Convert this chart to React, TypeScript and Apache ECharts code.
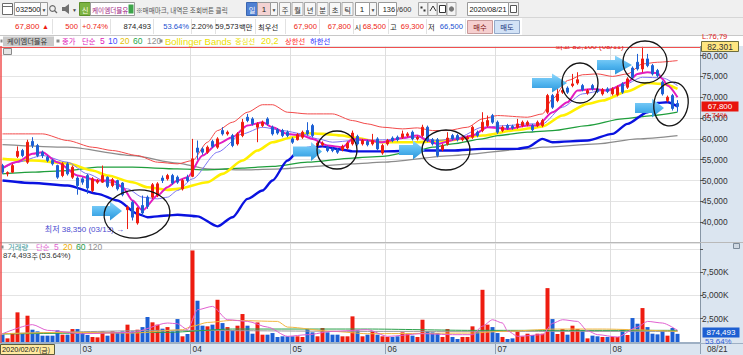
import React, { useEffect, useRef } from 'react';
import * as echarts from 'echarts';

// ---------- DATA ----------
const monthDays: [string, number[]][] = [
  ['02', [7, 10, 11, 12, 13, 14, 17, 18, 19, 20, 21, 24, 25, 26, 27, 28]],
  ['03', [2, 3, 4, 5, 6, 9, 10, 11, 12, 13, 16, 17, 18, 19, 20, 23, 24, 25, 26, 27, 30, 31]],
  ['04', [1, 2, 3, 6, 7, 8, 9, 10, 13, 14, 16, 17, 20, 21, 22, 23, 24, 27, 28, 29]],
  ['05', [4, 6, 7, 8, 11, 12, 13, 14, 15, 18, 19, 20, 21, 22, 25, 26, 27, 28, 29]],
  ['06', [1, 2, 3, 4, 5, 8, 9, 10, 11, 12, 15, 16, 17, 18, 19, 22, 23, 24, 25, 26, 29, 30]],
  ['07', [1, 2, 3, 6, 7, 8, 9, 10, 13, 14, 15, 16, 17, 20, 21, 22, 23, 24, 27, 28, 29, 30, 31]],
  ['08', [3, 4, 5, 6, 7, 10, 11, 12, 13, 14, 18, 19, 20, 21]],
];
const padSlots = [' ', '  ', '   ', '    '];

const opens = [
  53600, 51600, 52000, 55800, 57200, 54400, 59400, 58400, 56800, 55600,
  54800, 53600, 51200, 54000, 50800, 50600, 50400, 51200, 47600, 49600,
  49600, 50800, 48800, 50000, 49400, 43000, 44800, 39800, 44000, 46000,
  46000, 46400, 50600, 50400, 51200, 50800, 48000, 50800, 51000, 57800,
  57600, 56800, 59400, 58000, 62000, 61200, 60800, 58800, 60800, 65200,
  64800, 62800, 63200, 64800, 62800, 62200, 62000, 61600, 60000, 59800,
  60400, 62000, 63200, 58400, 58600, 58000, 57600, 57400, 57400, 57800,
  58800, 60600, 58800, 59400, 58800, 60000, 56600, 58800, 60200, 60400,
  60400, 60800, 61600, 60000, 60800, 62800, 59800, 59800, 57400, 58800,
  60800, 60800, 59800, 60000, 60400, 61600, 62000, 63200, 65600, 64000,
  62000, 63200, 63000, 62800, 63200, 63400, 63200, 63200, 63200, 66400,
  70400, 69200, 71200, 72200, 72800, 73400, 72800, 71000, 72800, 72000,
  70800, 72000, 70800, 70600, 73200, 72400, 77000, 78400, 76800, 79200,
  77600, 76400, 73600, 69200, 70400, 68500,
];
const closes = [
  52000, 51900, 53600, 57000, 56000, 59200, 58400, 56000, 56000, 54800,
  54000, 50800, 54000, 51600, 53200, 48800, 49600, 48200, 50400, 50000,
  51200, 48600, 50200, 48000, 46600, 43600, 41200, 43400, 42200, 43800,
  49000, 49200, 50000, 51200, 49400, 49600, 50000, 50000, 55200, 56800,
  56800, 58000, 58200, 60000, 61200, 61600, 58400, 61200, 64000, 64400,
  63600, 63600, 64000, 63600, 61200, 61400, 60800, 60800, 59200, 61000,
  61600, 61200, 60800, 59000, 59000, 57200, 57200, 56800, 58200, 59000,
  61400, 58800, 59600, 58600, 59600, 57600, 58400, 59600, 59600, 59800,
  61200, 61200, 60000, 60400, 62800, 59600, 58800, 56000, 58400, 60200,
  60000, 59800, 60200, 60400, 62800, 60800, 64000, 64400, 64000, 61600,
  62800, 62600, 62600, 63600, 64000, 64000, 62200, 64000, 64400, 70400,
  67600, 70800, 71600, 71200, 73200, 74200, 71800, 71600, 72000, 71400,
  71800, 71400, 72000, 72400, 71200, 74400, 74800, 76800, 79200, 77600,
  75600, 75200, 70800, 70000, 67300, 67800,
];
const lows = [
  51600, 51000, 51800, 55400, 55600, 54000, 57800, 55600, 55400, 54400,
  53600, 50400, 50800, 51200, 50400, 46600, 49000, 46800, 47200, 49200,
  49400, 48200, 48400, 47600, 46200, 38350, 40400, 39400, 41600, 43200,
  45600, 46000, 49400, 50000, 49000, 49200, 47600, 49600, 50800, 55000,
  56200, 56400, 57800, 57600, 60800, 60800, 58000, 58400, 60400, 64000,
  63200, 59200, 62800, 63200, 60800, 61000, 60400, 60400, 58800, 59600,
  60000, 60800, 60400, 58000, 58200, 56800, 56800, 56400, 57000, 57400,
  58400, 58400, 58400, 58200, 58400, 57200, 56200, 58400, 59200, 59400,
  60000, 60400, 59600, 59600, 60400, 59200, 58400, 55600, 57000, 58400,
  59600, 59400, 59400, 59600, 60000, 60400, 61600, 62800, 63600, 61200,
  61600, 62200, 62200, 62400, 62800, 63000, 61800, 62800, 62800, 66000,
  67200, 68800, 70800, 70800, 72400, 73000, 71400, 70600, 71600, 71000,
  70400, 71000, 70400, 70200, 70800, 72000, 74400, 76400, 76000, 77200,
  75200, 74800, 70400, 68800, 66800, 66500,
];
const highs = [
  54000, 52200, 54000, 58200, 57600, 59800, 60400, 58800, 57200, 56000,
  55200, 53800, 54400, 54400, 53600, 51000, 50800, 51600, 50800, 50400,
  53600, 51000, 50600, 50200, 49600, 44000, 45200, 43600, 46400, 46400,
  49400, 49600, 51200, 51600, 51600, 51200, 50400, 51400, 60000, 59600,
  58000, 58400, 59800, 60400, 62800, 62000, 61200, 61600, 64800, 66000,
  65200, 64000, 64400, 65200, 63200, 62600, 62400, 62000, 60400, 61400,
  62000, 64000, 63600, 59400, 59400, 58400, 58000, 57800, 58600, 59400,
  62000, 61000, 60000, 59800, 61200, 60400, 58800, 60000, 60600, 60800,
  62000, 61600, 62000, 60800, 63400, 63200, 60200, 60200, 58800, 61600,
  61200, 61200, 60600, 60800, 63200, 62000, 66400, 65600, 66000, 64400,
  63200, 63600, 63400, 64800, 64400, 64400, 63600, 64400, 64800, 70800,
  70800, 72400, 72000, 72600, 75600, 76000, 73200, 72000, 73200, 72400,
  72200, 72400, 72400, 72800, 73600, 74800, 77400, 80400, 82100, 80400,
  78000, 76800, 74000, 70400, 70800, 69300,
];
// volume in thousands of shares
const volumesK = [
  785, 390, 890, 3180, 960, 2820, 1320, 1140, 680, 680,
  680, 1250, 785, 785, 1390, 1390, 1035, 750, 535, 500,
  1140, 680, 1140, 960, 1140, 1860, 1140, 1320, 1600, 2680,
  2110, 1860, 1430, 1600, 1140, 2460, 610, 860, 9820, 4430,
  1750, 1680, 1860, 4530, 2030, 1600, 1250, 1750, 3000, 1750,
  890, 2100, 785, 785, 960, 535, 610, 610, 610, 610,
  535, 1390, 1035, 610, 1500, 1035, 785, 785, 610, 610,
  2750, 1250, 610, 785, 1140, 785, 610, 540, 540, 610,
  1035, 850, 680, 540, 2390, 1140, 1035, 960, 540, 1390,
  540, 320, 540, 540, 1680, 1140, 5600, 1860, 1600, 960,
  540, 320, 390, 1140, 610, 890, 750, 890, 890, 5780,
  2460, 860, 1390, 785, 1750, 1390, 1250, 390, 680, 610,
  540, 540, 540, 540, 1320, 750, 2570, 1960, 3640, 1600,
  890, 820, 1250, 680, 1500, 874,
];

// indicator lines: [trading-day index, value]
const ma5Pts = [[0, 53000], [3, 54500], [6, 56400], [8, 56800], [11, 54400], [15, 51200], [19, 50000], [22, 50000], [24, 48400], [26, 45200], [28, 42800], [31, 46400], [33, 48400], [35, 50000], [37, 50800], [40, 56000], [43, 58800], [46, 60400], [49, 63200], [52, 64000], [54, 62800], [57, 61200], [60, 60800], [62, 60000], [65, 58400], [68, 58000], [70, 60000], [72, 59800], [76, 59200], [80, 60240], [83, 60800], [85, 59600], [87, 58800], [91, 60000], [94, 60800], [97, 62800], [101, 62400], [105, 63200], [107, 63200], [110, 66400], [113, 68800], [115, 71600], [118, 72000], [121, 71600], [125, 73600], [127, 75600], [129, 76000], [131, 75800], [132, 74400], [133, 72800], [135, 70000]];
const ma10Pts = [[0, 52800], [3, 54400], [8, 56000], [13, 54400], [17, 51600], [21, 49600], [25, 48000], [28, 46000], [31, 45600], [33, 46000], [35, 47600], [38, 50400], [43, 56800], [48, 61200], [52, 62800], [56, 62000], [60, 61200], [63, 60000], [66, 59200], [70, 59600], [76, 59760], [83, 60400], [87, 59600], [91, 60240], [96, 62800], [101, 63200], [105, 63600], [108, 63600], [112, 67600], [116, 70800], [120, 71600], [124, 72800], [128, 74800], [132, 74640], [135, 72800]];
const bbMidPts = [[0, 55200], [6, 54800], [13, 54160], [18, 52400], [21, 51200], [26, 49600], [29, 48400], [33, 47760], [35, 48000], [41, 49600], [44, 51600], [48, 54800], [51, 57200], [54, 59200], [58, 60400], [61, 61360], [64, 61200], [68, 60800], [70, 60300], [76, 59200], [83, 59200], [89, 59600], [96, 60800], [103, 62160], [106, 62600], [108, 63000], [112, 65600], [117, 68400], [120, 69200], [125, 71400], [129, 73400], [132, 73200], [135, 72000]];
const bbUpPts = [[0, 61200], [8, 61200], [13, 59600], [18, 58000], [22, 57200], [27, 56000], [31, 54400], [35, 54000], [38, 54800], [41, 59200], [43, 62000], [46, 64000], [49, 66400], [52, 68200], [54, 68200], [57, 66400], [61, 66000], [66, 66000], [70, 64400], [73, 63600], [76, 62800], [80, 62400], [83, 62640], [86, 62000], [89, 62000], [93, 62800], [96, 64800], [99, 65600], [105, 65200], [108, 66000], [110, 69600], [113, 74000], [116, 75400], [119, 75600], [122, 75000], [125, 75600], [128, 78000], [131, 78400], [135, 78800]];
const bbLowPts = [[0, 50000], [6, 49400], [13, 48800], [19, 46800], [23, 45200], [27, 42000], [29, 41200], [33, 41600], [35, 41800], [39, 41400], [43, 39000], [46, 41200], [49, 45600], [52, 47600], [54, 50000], [57, 54800], [59, 56800], [61, 57800], [64, 58200], [68, 57400], [70, 57000], [76, 57000], [83, 57200], [90, 57200], [96, 57600], [103, 57600], [105, 58000], [108, 60000], [110, 59200], [117, 59600], [122, 61200], [125, 63600], [129, 66400], [131, 68600], [133, 68800], [135, 67800]];
const ma60Pts = [[0, 51600], [6, 52000], [13, 52400], [19, 53200], [26, 53200], [35, 52800], [41, 52560], [48, 53000], [54, 53400], [61, 54400], [70, 55400], [76, 55800], [83, 57200], [86, 58000], [90, 58800], [96, 60000], [99, 60800], [105, 61600], [110, 62000], [117, 63200], [124, 64800], [130, 65600], [135, 66400]];
const ma120Pts = [[0, 58640], [13, 58000], [26, 56000], [35, 54200], [41, 52800], [48, 52560], [56, 52800], [62, 53360], [70, 54000], [76, 54400], [90, 56000], [105, 57600], [108, 58000], [119, 58800], [127, 60000], [135, 60800]];
const vma5Pts = [[0, 890], [6, 1860], [9, 1250], [16, 890], [26, 1035], [33, 2035], [35, 1960], [37, 1320], [39, 3460], [42, 3820], [45, 2390], [49, 2210], [53, 1600], [57, 610], [61, 785], [66, 1140], [73, 1320], [77, 610], [84, 890], [90, 785], [94, 785], [96, 1700], [98, 2390], [100, 2035], [101, 1200], [103, 610], [108, 785], [110, 2000], [112, 2390], [115, 2210], [117, 1200], [119, 785], [123, 535], [127, 1600], [129, 2210], [132, 2035], [135, 1250]];
const vma20Pts = [[0, 890], [13, 1035], [26, 960], [36, 1320], [38, 1700], [41, 2100], [46, 2320], [55, 2210], [57, 1600], [66, 1140], [73, 890], [94, 960], [100, 1140], [111, 1390], [120, 1390], [135, 1140]];
const vma60Pts = [[0, 860], [33, 1035], [46, 1390], [73, 1390], [94, 1250], [135, 1250]];
const vma120Pts = [[0, 890], [33, 1250], [73, 1140], [135, 1140]];

const priceTicks = { min: 35000, max: 82301, step: 5000 };
const volTicks = { min: 0, max: 10620, step: 2500 };
const highMark = { index: 128, value: 82100, text: '최고 82,100 (08/11) →' };
const lowMark = { index: 25, value: 38350, text: '최저 38,350 (03/13) →' };

// ---------- derived ----------
const dates: string[] = [];
const monthStart: Record<number, string> = {};
monthDays.forEach(([m, ds]) => {
  monthStart[dates.length] = m;
  ds.forEach((d) => dates.push(`2020/${m}/${d < 10 ? '0' + d : d}`));
});
const categories = dates.concat(padSlots);
const isMonthStart = (i: number) => monthStart[i] !== undefined && i > 0;

const RED = '#ee1c10';
const BLUE = '#1c5fd4';
const FONT = '"Liberation Sans","Noto Sans CJK KR",sans-serif';
const KFONT = '"Noto Sans CJK KR","Liberation Sans",sans-serif';

const txt = (text: string, x: number, y: number, fill = '#222', size = 8, align = 'left', font = FONT, z = 60) => ({
  type: 'text', x, y, z, silent: true,
  style: { text, fill, font: `${size}px ${font}`, align, verticalAlign: 'middle' },
});
const ktxt = (text: string, x: number, y: number, fill = '#222', size = 7.3, align = 'left', z = 60) =>
  txt(text, x, y, fill, size, align, KFONT, z);
const rect = (x: number, y: number, w: number, h: number, fill: string, stroke?: string, z = 50) => ({
  type: 'rect', z, silent: true, shape: { x, y, width: w, height: h },
  style: { fill, stroke: stroke || null, lineWidth: stroke ? 1 : 0 },
});
const line = (x1: number, y1: number, x2: number, y2: number, stroke: string, w = 1, z = 50) => ({
  type: 'line', z, silent: true, shape: { x1, y1, x2, y2 }, style: { stroke, lineWidth: w },
});
const arrowGrad = {
  type: 'linear', x: 0, y: 0, x2: 0, y2: 1,
  colorStops: [{ offset: 0, color: '#8fd6fb' }, { offset: 0.55, color: '#4fb4ee' }, { offset: 1, color: '#2d93d8' }],
};
const arrow = (x0: number, x1: number, x2: number, yc: number) => ({
  type: 'polygon', z: 120, silent: true,
  shape: { points: [[x0, yc - 5], [x1, yc - 5], [x1, yc - 9.5], [x2, yc], [x1, yc + 9.5], [x1, yc + 5], [x0, yc + 5]] },
  style: { fill: arrowGrad },
});
const loop = (cx: number, cy: number, rx: number, ry: number, rot = 0) => ({
  type: 'ellipse', z: 121, silent: true, rotation: rot, x: cx, y: cy, originX: 0, originY: 0,
  shape: { cx: 0, cy: 0, rx, ry }, style: { fill: 'none', stroke: '#151515', lineWidth: 1.3 },
});

const toolbar: any[] = [
  rect(0, 0, 743, 35, '#f0f0f0', undefined, 40),
  line(0, 17.5, 743, 17.5, '#d6d6d6', 1, 41),
  line(0, 35.5, 743, 35.5, '#c8c8c8', 1, 41),
  // row 1
  rect(2.5, 3.5, 10, 11, '#ffffff', '#6b6b6b'),
  line(2.5, 6.5, 12.5, 6.5, '#6b6b6b'),
  rect(14.5, 2.5, 26, 13, '#ffffff', '#9a9a9a'),
  txt('032500', 15.8, 9.5, '#111', 7.4),
  rect(40.5, 2.5, 7, 13, '#f6f6f6', '#9a9a9a'),
  txt('▼', 44, 9.5, '#444', 5, 'center'),
  { type: 'circle', z: 55, silent: true, shape: { cx: 52.5, cy: 8.5, r: 2.8 }, style: { fill: 'none', stroke: '#666', lineWidth: 1.1 } },
  line(54.5, 10.5, 57, 13, '#666', 1.3, 55),
  { type: 'polygon', z: 55, silent: true, shape: { points: [[62, 7], [65, 7], [69, 4], [69, 14], [65, 11], [62, 11]] }, style: { fill: '#707070' } },
  txt('▼', 74.5, 9.5, '#444', 5, 'center'),
  rect(79.5, 2.5, 11, 13, '#7cb342', '#5b8e2a'),
  ktxt('신', 85, 9.5, '#fffbe0', 7.3, 'center'),
  rect(90.5, 2.5, 44, 13, '#ffffff', '#9a9a9a'),
  ktxt('케이엠더블유', 92, 9.5, '#a0187e', 6.6),
  rect(128.5, 4.5, 5, 9, '#3ea54a'),
  ktxt('※매매마크, 내역은 조회버튼 클릭', 136, 9.5, '#555', 6.6),
  rect(246.5, 2.5, 11, 13, '#4f80d3', '#3a66b0'),
  ktxt('일', 252, 9.5, '#ffffff', 7.3, 'center'),
  rect(257.5, 2.5, 13, 13, '#f4d2d2', '#9a9a9a'),
  txt('1', 264, 9.5, '#222', 8, 'center'),
  rect(270.5, 2.5, 7, 13, '#f6f6f6', '#9a9a9a'),
  txt('▼', 274, 9.5, '#444', 5, 'center'),
  ...['주', '월', '년', '분', '초', '틱'].flatMap((t, k) => [
    rect(279.5 + k * 12.5, 2.5, 11, 13, '#f7f7f7', '#a8a8a8'),
    ktxt(t, 285 + k * 12.5, 9.5, '#333', 7.3, 'center'),
  ]),
  rect(355.5, 2.5, 14, 13, '#ffffff', '#9a9a9a'),
  txt('1', 362, 9.5, '#222', 8, 'center'),
  rect(369.5, 2.5, 7, 13, '#f6f6f6', '#9a9a9a'),
  txt('▼', 373, 9.5, '#444', 5, 'center'),
  rect(378.5, 2.5, 18, 13, '#ffffff', '#9a9a9a'),
  txt('136', 395, 9.5, '#222', 7.4, 'right'),
  txt('/600', 397, 9.5, '#333', 7.4, 'left'),
  ...[0, 1, 2, 3].map((k) => rect(418.5 + k * 9.5, 2.5, 9, 13, '#f4f4f4', '#a8a8a8')),
  rect(420.5, 6.5, 2, 2, '#333', undefined, 55),
  rect(423.5, 9.5, 2, 2, '#333', undefined, 55),
  line(430, 11, 433, 6, '#333', 1, 55),
  line(433, 6, 436, 11, '#333', 1, 55),
  rect(439.5, 5.5, 6, 7, '#ffffff', '#333', 55),
  { type: 'circle', z: 55, silent: true, shape: { cx: 451.5, cy: 9, r: 2.6 }, style: { fill: '#777' } },
  rect(467.5, 2.5, 41, 13, '#ffffff', '#9a9a9a'),
  txt('2020/08/21', 469.5, 9.5, '#111', 7.4),
  rect(508.5, 2.5, 10, 13, '#f4f4f4', '#9a9a9a'),
  rect(510.5, 5.5, 6, 7, '#ffffff', '#555', 55),
  // row 2
  rect(0, 18, 522, 17, '#ffffff', undefined, 42),
  ...[52, 80, 110, 153, 191, 215, 255, 285, 319, 353, 388, 426, 465].map((x) => line(x + 0.5, 19, x + 0.5, 34, '#e2e2e2', 1, 43)),
  txt('67,800', 15, 26.5, RED, 8),
  txt('▲', 42, 26.5, RED, 7),
  txt('500', 78, 26.5, RED, 7.6, 'right'),
  txt('+0.74%', 108, 26.5, RED, 7.6, 'right'),
  txt('874,493', 151, 26.5, '#222', 7.6, 'right'),
  txt('53.64%', 189, 26.5, '#2050d0', 7.6, 'right'),
  txt('2.20%', 213, 26.5, '#222', 7.6, 'right'),
  txt('59,573', 238.5, 26.5, '#222', 7.6, 'right'),
  ktxt('백만', 239, 26.5, '#222'),
  ktxt('최우선', 258, 26.5, '#222'),
  txt('67,900', 317, 26.5, RED, 7.6, 'right'),
  txt('67,800', 351, 26.5, RED, 7.6, 'right'),
  ktxt('시', 354.5, 26.5, '#222'),
  txt('68,500', 386, 26.5, RED, 7.6, 'right'),
  ktxt('고', 390, 26.5, '#222'),
  txt('69,300', 424, 26.5, RED, 7.6, 'right'),
  ktxt('저', 428, 26.5, '#222'),
  txt('66,500', 463, 26.5, '#2050d0', 7.6, 'right'),
  rect(467.5, 20.5, 25, 13, '#f6cfcf', '#c99a9a'),
  ktxt('매수', 480, 27, '#7a1010', 7.3, 'center'),
  rect(494.5, 20.5, 25, 13, '#d2e2f6', '#93a9c9'),
  ktxt('매도', 507, 27, '#15357a', 7.3, 'center'),
  // legend row
  rect(0, 36, 743, 10, '#ffffff', undefined, 42),
  rect(0.5, 39.5, 2, 3, '#888', undefined, 55),
  rect(3, 36.5, 51, 9.5, '#c9c9c9', undefined, 55),
  ktxt('케이엠더블유', 7, 41.3, '#333'),
  rect(56.5, 39.5, 3, 3, '#888', undefined, 55),
  ktxt('종가', 62, 41.3, '#e020b8'),
  ktxt('단순', 82, 41.3, '#e020b8'),
  txt('5', 100, 41.3, '#e020b8', 8.5),
  txt('10', 108, 41.3, '#4848ff', 8.5),
  txt('20', 120, 41.3, '#e6c200', 8.5),
  txt('60', 133, 41.3, '#27a84a', 8.5),
  txt('120', 147, 41.3, '#909090', 8.5),
  rect(159.5, 39.5, 3, 3, '#888', undefined, 55),
  txt('Bollinger Bands', 165, 41.3, '#ece000', 9.5),
  ktxt('중심선', 235, 41.3, '#ece000'),
  txt('20,2', 261, 41.3, '#ece000', 9),
  ktxt('상한선', 285, 41.3, '#ff2a2a'),
  ktxt('하한선', 310, 41.3, '#2a2aff'),
];

const chrome: any[] = [
  // right axis panel & bottom date strip backgrounds
  rect(700, 46, 43, 309, '#dbe5f0', undefined, -1),
  rect(0, 343, 743, 12, '#dbe5f0', undefined, -1),
  line(0, 343.5, 743, 343.5, '#9eb0c4', 1, 5),
  line(0, 242.5, 743, 242.5, '#b9b9b9', 1, 5),
  line(1, 46, 1, 343, '#f05050', 1.5, 30),
  rect(3.5, 48.5, 8, 6, '#e6e6e6', '#8a8a8a', 30),
  rect(733.5, 243.5, 6, 5, '#cfd8e2', '#7c8a99', 30),
  // right axis flags
  txt('L:76,79', 702, 36.5, '#e02020', 7.6),
  rect(701.5, 41.5, 37, 10, '#ffe680', '#6d6d3d', 70),
  txt('82,301', 720, 46.7, '#333', 8.4, 'center', FONT, 71),
  rect(701.5, 101.5, 37, 10, '#e8140c', undefined, 70),
  txt('67,800', 720, 106.5, '#ffffff', 8, 'center', FONT, 71),
  txt('0.74%', 705, 115, '#e8140c', 7.8, 'left', FONT, 71),
  rect(702.5, 327.5, 37, 10, '#1d5fd2', undefined, 70),
  txt('874,493', 721, 332.4, '#ffffff', 8, 'center', FONT, 71),
  txt('53.64%', 705, 341.2, '#2f60d8', 7.8, 'left', FONT, 71),
  // bottom strip texts
  rect(0.5, 344.5, 54, 10, '#ffeaa0', '#5a5a3a', 70),
  txt('2020/02/07', 2, 349.8, '#222', 7.4, 'left', FONT, 71),
  ktxt('(금)', 39, 349.8, '#222', 7, 'left', 71),
  txt('08/21', 707, 349.8, '#333', 8.2, 'left', FONT, 71),
  // volume pane legend
  rect(1.5, 245.5, 2, 3, '#888', undefined, 60),
  ktxt('거래량', 8, 247.3, '#3a9a9a'),
  ktxt('단순', 36, 247.3, '#e060d0'),
  txt('5', 54, 247.3, '#e060d0', 8.5),
  txt('20', 63, 247.3, '#f0b000', 8.5),
  txt('60', 76, 247.3, '#2aa04a', 8.5),
  txt('120', 88, 247.3, '#909090', 8.5),
  txt('874,493', 3, 255.5, '#333', 7.8),
  ktxt('주', 31.5, 255.5, '#333', 7),
  txt('(53.64%)', 39, 255.5, '#333', 7.8),
];

const annotations: any[] = [
  arrow(92, 110, 122, 211),
  arrow(293, 311, 322, 151.5),
  arrow(399, 413, 425, 150),
  arrow(532, 552, 567, 83),
  arrow(597, 615, 632, 65),
  arrow(635, 652, 664, 108),
  loop(137, 214, 33, 24, 0.1),
  loop(337, 150, 20, 19),
  loop(446, 150, 24, 20),
  loop(580, 83, 18, 20),
  loop(645, 62, 22, 21),
  loop(671, 104, 17, 22, -0.2),
];

const lineSeries = (data: number[][], color: string, width: number, grid: number, z = 3) => ({
  type: 'line', xAxisIndex: grid, yAxisIndex: grid, data, showSymbol: false, symbol: 'none',
  smooth: 0.25, smoothMonotone: 'x', z, silent: true,
  lineStyle: { color, width },
});

const option: any = {
  animation: false,
  backgroundColor: '#ffffff',
  grid: [
    { left: 0, right: 43, top: 46, height: 197 },
    { left: 0, right: 43, top: 243, height: 99 },
  ],
  xAxis: [
    {
      type: 'category', gridIndex: 0, data: categories, boundaryGap: true,
      axisLine: { show: false }, axisTick: { show: false }, axisLabel: { show: false },
      splitLine: { show: true, interval: (i: number) => isMonthStart(i), lineStyle: { color: '#dedede', width: 1 } },
    },
    {
      type: 'category', gridIndex: 1, data: categories, boundaryGap: true,
      axisLine: { show: true, lineStyle: { color: '#9eb0c4' } },
      axisTick: { show: true, interval: (i: number) => isMonthStart(i), length: 12, lineStyle: { color: '#8fa0b4' } },
      axisLabel: {
        show: true, interval: (i: number) => isMonthStart(i), formatter: (_v: string, i: number) => monthStart[i] || '',
        align: 'left', margin: 3, fontSize: 8.4, color: '#333', fontFamily: FONT,
      },
      splitLine: { show: true, interval: (i: number) => isMonthStart(i), lineStyle: { color: '#dedede', width: 1 } },
    },
  ],
  yAxis: [
    {
      type: 'value', gridIndex: 0, position: 'right', min: priceTicks.min, max: priceTicks.max, interval: priceTicks.step,
      axisLine: { show: true, lineStyle: { color: '#8796a6' } },
      axisTick: { show: true, length: 3, lineStyle: { color: '#555' } },
      axisLabel: {
        show: true, fontSize: 8.4, color: '#333', margin: 2, fontFamily: FONT, showMinLabel: false, showMaxLabel: false,
        formatter: (v: number) => (v % priceTicks.step === 0 ? v.toLocaleString('en-US') : ''),
      },
      splitLine: { show: true, lineStyle: { color: '#e4e4e4' } },
    },
    {
      type: 'value', gridIndex: 1, position: 'right', min: volTicks.min, max: volTicks.max, interval: volTicks.step,
      axisLine: { show: true, lineStyle: { color: '#8796a6' } },
      axisTick: { show: true, length: 3, lineStyle: { color: '#555' } },
      axisLabel: {
        show: true, fontSize: 8.4, color: '#333', margin: 2, fontFamily: FONT, showMinLabel: false, showMaxLabel: false,
        formatter: (v: number) => (v > 0 && v < 10000 ? v.toLocaleString('en-US') + 'K' : ''),
      },
      splitLine: { show: true, lineStyle: { color: '#e4e4e4' } },
    },
  ],
  series: [
    lineSeries(ma120Pts, '#8c8c8c', 1.3, 0),
    lineSeries(ma60Pts, '#1f9e3c', 1.3, 0),
    lineSeries(bbUpPts, '#f24a4a', 1, 0),
    lineSeries(bbLowPts, '#0a12e0', 2.4, 0),
    lineSeries(bbMidPts, '#fff000', 2.6, 0),
    lineSeries(ma10Pts, '#7c74f4', 1, 0),
    lineSeries(ma5Pts, '#e21cc0', 2, 0),
    {
      type: 'candlestick', xAxisIndex: 0, yAxisIndex: 0, z: 4, silent: true, barWidth: 3,
      data: dates.map((_, i) => [opens[i], closes[i], lows[i], highs[i]]),
      itemStyle: { color: RED, color0: BLUE, borderColor: RED, borderColor0: BLUE, borderWidth: 1 },
      markLine: {
        silent: true, symbol: 'none', label: { show: false },
        lineStyle: { color: '#f05050', width: 1, type: 'solid' },
        data: [{ yAxis: highMark.value }],
      },
      markPoint: {
        silent: true, symbol: 'circle', symbolSize: 1, itemStyle: { color: 'rgba(0,0,0,0)' },
        data: [
          { coord: [dates[highMark.index], highMark.value], label: { show: true, position: 'left', distance: 8, formatter: highMark.text, color: '#e02020', fontSize: 8, fontFamily: FONT } },
          { coord: [dates[lowMark.index], lowMark.value], label: { show: true, position: 'left', distance: 3, formatter: lowMark.text, color: '#4a4ad0', fontSize: 8, fontFamily: FONT } },
        ],
      },
    },
    {
      type: 'bar', xAxisIndex: 1, yAxisIndex: 1, barWidth: 4, z: 2, silent: true,
      data: volumesK.map((v, i) => ({ value: v, itemStyle: { color: closes[i] >= opens[i] ? RED : BLUE } })),
    },
    lineSeries(vma120Pts, '#9a9a9a', 1, 1, 4),
    lineSeries(vma60Pts, '#2aa04a', 1, 1, 4),
    lineSeries(vma20Pts, '#f2b640', 1, 1, 4),
    lineSeries(vma5Pts, '#e060d0', 1, 1, 4),
  ],
  graphic: { elements: [...chrome, ...toolbar, ...annotations] },
};

export default function App() {
  const ref = useRef<HTMLDivElement>(null);
  useEffect(() => {
    const chart = echarts.init(ref.current as HTMLDivElement, undefined, { renderer: 'svg', width: 743, height: 355 });
    chart.setOption(option);
    return () => chart.dispose();
  }, []);
  return (
    <div
      ref={ref}
      style={{ position: 'fixed', left: 0, top: 0, width: 743, height: 355, background: '#ffffff' }}
    />
  );
}
